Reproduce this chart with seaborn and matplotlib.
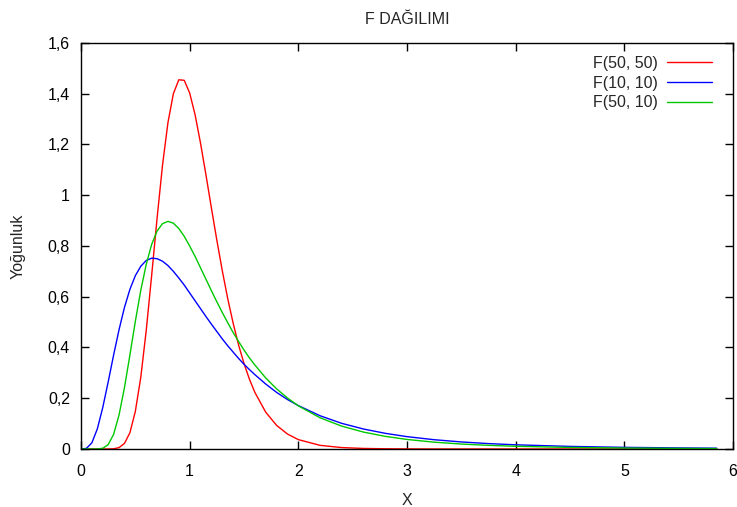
import pandas as pd
import matplotlib
matplotlib.use('Agg')
import matplotlib.pyplot as plt
from matplotlib.ticker import FuncFormatter, MultipleLocator
import seaborn as sns

# x noktaları
x_degerleri = [0, 0.05, 0.1, 0.15, 0.2, 0.25, 0.3, 0.35, 0.4, 0.45, 0.5, 0.55, 0.6, 0.65,
               0.7, 0.75, 0.8, 0.85, 0.9, 0.95, 1.0, 1.05, 1.1, 1.15, 1.2, 1.25, 1.3, 1.35,
               1.4, 1.45, 1.5, 1.55, 1.6, 1.7, 1.8, 1.9, 2.0, 2.2, 2.4, 2.6, 2.8, 3.0,
               3.25, 3.5, 3.75, 4.0, 4.5, 5.0, 5.5, 5.85]

# F(50, 50) yoğunluğu
f_50_50 = [0, 0, 0, 0, 0, 0.0001, 0.0009, 0.0055, 0.022, 0.064, 0.148, 0.282, 0.466, 0.683,
           0.909, 1.118, 1.286, 1.400, 1.455, 1.453, 1.403, 1.317, 1.205, 1.080, 0.950,
           0.823, 0.703, 0.593, 0.496, 0.410, 0.337, 0.275, 0.223, 0.145, 0.093, 0.059,
           0.037, 0.0144, 0.0056, 0.0022, 0.0009, 0.0004, 0.0001, 0, 0, 0, 0, 0, 0, 0]

# F(10, 10) yoğunluğu
f_10_10 = [0, 0.0024, 0.0243, 0.0788, 0.163, 0.264, 0.370, 0.470, 0.558, 0.629, 0.683,
           0.720, 0.743, 0.752, 0.750, 0.740, 0.723, 0.700, 0.674, 0.646, 0.615, 0.584,
           0.553, 0.522, 0.492, 0.463, 0.434, 0.407, 0.382, 0.357, 0.334, 0.313, 0.293,
           0.256, 0.223, 0.195, 0.171, 0.131, 0.101, 0.0787, 0.0618, 0.0487, 0.0366,
           0.0278, 0.0213, 0.0165, 0.0102, 0.0065, 0.0043, 0.0032]

# F(50, 10) yoğunluğu
f_50_10 = [0, 0, 0, 0.0002, 0.0028, 0.0171, 0.0576, 0.134, 0.242, 0.370, 0.503, 0.625,
           0.727, 0.806, 0.859, 0.888, 0.897, 0.890, 0.869, 0.838, 0.800, 0.759, 0.714,
           0.669, 0.624, 0.580, 0.538, 0.498, 0.459, 0.424, 0.390, 0.359, 0.331, 0.280,
           0.237, 0.201, 0.170, 0.123, 0.090, 0.0666, 0.0498, 0.0376, 0.0269, 0.0195,
           0.0144, 0.0107, 0.0062, 0.0038, 0.0024, 0.0017]

etiketler = ['F(50, 50)', 'F(10, 10)', 'F(50, 10)']
renkler = ['#ff0000', '#0000ff', '#00c800']


def veri_hazirla():
    parcalar = []
    for etiket, degerler in zip(etiketler, [f_50_50, f_10_10, f_50_10]):
        parcalar.append(pd.DataFrame({'X': x_degerleri, 'Yogunluk': degerler, 'Dagilim': etiket}))
    return pd.concat(parcalar, ignore_index=True)


def virgullu(deger, pos):
    return '{:g}'.format(round(deger, 2)).replace('.', ',')


def grafik_ciz(df):
    sns.set_style('white')
    plt.rcParams['font.family'] = ['Liberation Sans', 'DejaVu Sans']
    plt.rcParams['font.size'] = 11.5

    fig = plt.figure(figsize=(7.37, 5.07), dpi=100)
    ax = fig.add_axes([0.1099, 0.1144, 0.8847, 0.8008])

    sns.lineplot(data=df, x='X', y='Yogunluk', hue='Dagilim', hue_order=etiketler,
                 palette=renkler, linewidth=1.0, ax=ax, legend=False)

    ax.set_xlim(0, 6)
    ax.set_ylim(0, 1.6)
    ax.xaxis.set_major_locator(MultipleLocator(1))
    ax.yaxis.set_major_locator(MultipleLocator(0.2))
    ax.yaxis.set_major_formatter(FuncFormatter(virgullu))
    ax.xaxis.set_major_formatter(FuncFormatter(virgullu))
    ax.tick_params(direction='in', length=6, width=1, color='black',
                   top=True, right=True, bottom=True, left=True, labelcolor='black')
    ax.tick_params(axis='x', pad=11)
    ax.tick_params(axis='y', pad=8)
    for kenar in ax.spines.values():
        kenar.set_color('black')
        kenar.set_linewidth(1.0)

    ax.set_xlabel('X', labelpad=10)
    ax.set_ylabel('Yoğunluk', labelpad=16)
    ax.set_title('F DAĞILIMI', pad=14, fontsize=11.5)

    for cizgi, etiket in zip(ax.get_lines(), etiketler):
        cizgi.set_label(etiket)
    ax.legend(loc='upper right', bbox_to_anchor=(0.9923, 1.0074), frameon=False,
              markerfirst=False, handlelength=2.8, handletextpad=0.6,
              labelspacing=0.29, borderaxespad=0.6)

    fig.savefig('out.png', dpi=100)


def main():
    df = veri_hazirla()
    grafik_ciz(df)


if __name__ == "__main__":
    main()
